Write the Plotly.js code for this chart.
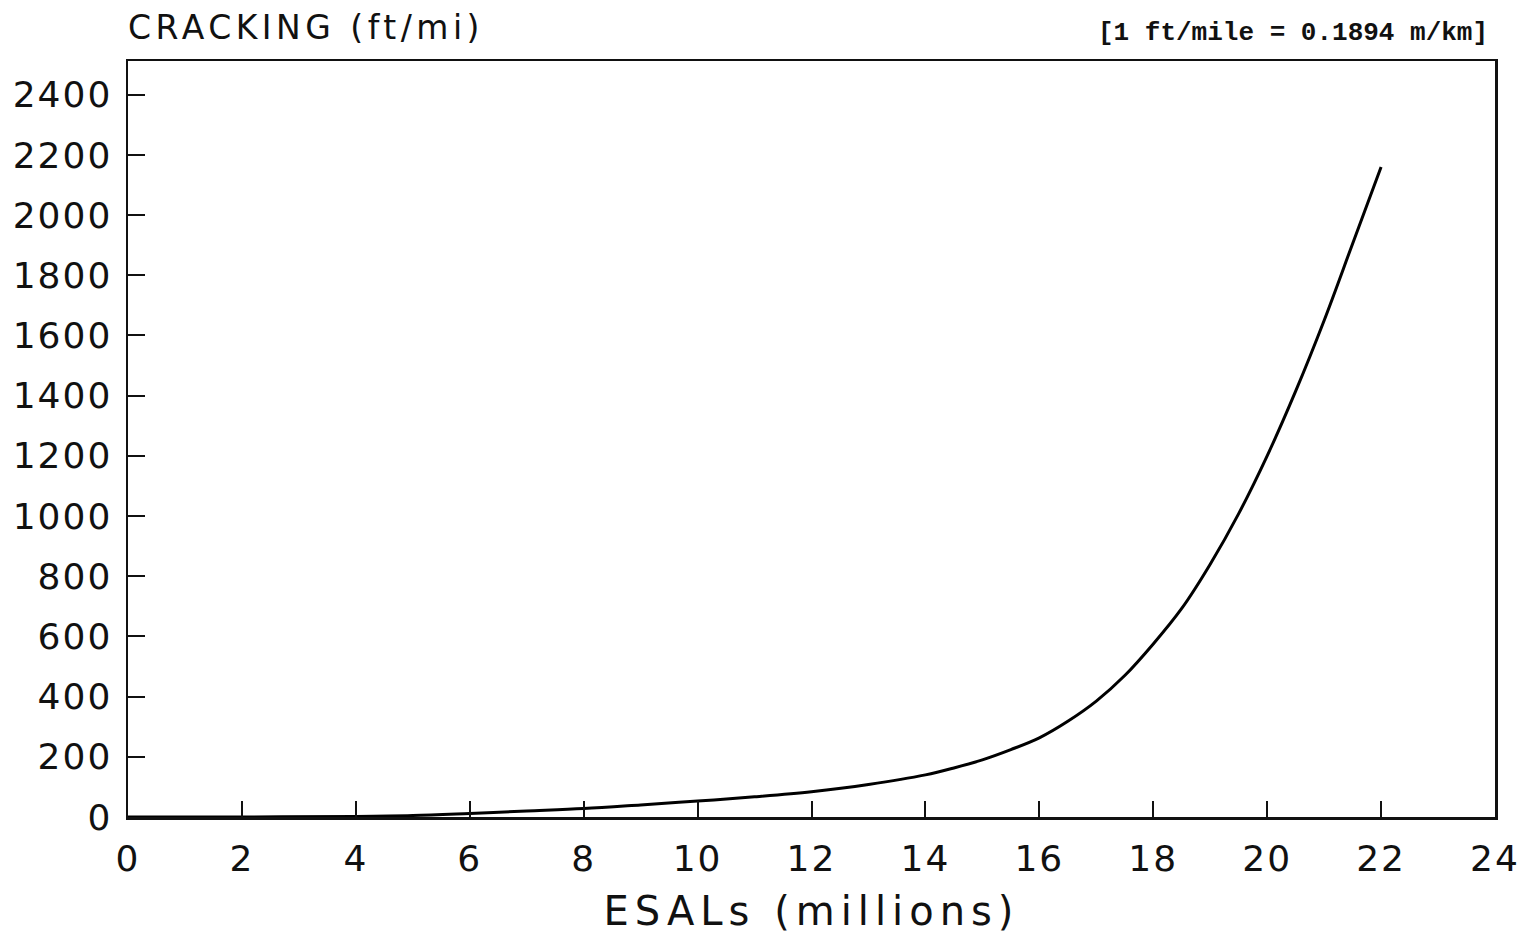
<!DOCTYPE html>
<html>
<head>
<meta charset="utf-8">
<script src="https://cdn.plot.ly/plotly-3.0.1.min.js"></script>
<style>
  html, body { margin: 0; padding: 0; background: #fff; }
  #chart { width: 1530px; height: 946px; }
  .xtick text, .ytick text { letter-spacing: 2px; }
  .xtitle { letter-spacing: 6px; }
  .annotation[data-index="0"] text { letter-spacing: 4.5px; }
</style>
</head>
<body>
<div id="chart"></div>
<script>
// ESALs (millions)
const esals = [0, 2, 4, 5, 6, 7, 8, 9, 10, 11, 12, 13, 14, 14.5, 15, 15.5, 16, 16.5, 17, 17.5, 18, 18.5, 19, 19.5, 20, 20.5, 21, 21.5, 22];
// Cracking (ft/mi)
const cracking = [0, 0, 2, 5, 12, 20, 28, 40, 53, 67, 84, 108, 140, 163, 190, 224, 263, 318, 385, 470, 575, 693, 840, 1008, 1200, 1415, 1650, 1905, 2160];

const xTickVals = [0, 2, 4, 6, 8, 10, 12, 14, 16, 18, 20, 22, 24];
const yTickVals = [0, 200, 400, 600, 800, 1000, 1200, 1400, 1600, 1800, 2000, 2200, 2400];

const yAxisLabel = 'CRACKING (ft/mi)';
const xAxisLabel = 'ESALs (millions)';
const conversionNote = '[1 ft/mile = 0.1894 m/km]';

const sans = 'DejaVu Sans, Liberation Sans, sans-serif';

const trace = {
  x: esals,
  y: cracking,
  type: 'scatter',
  mode: 'lines',
  line: { color: '#000', width: 3, shape: 'spline', smoothing: 1 },
  hoverinfo: 'x+y'
};

const layout = {
  width: 1530,
  height: 946,
  margin: { l: 128, r: 35, t: 61, b: 129 },
  paper_bgcolor: '#fff',
  plot_bgcolor: '#fff',
  showlegend: false,
  font: { family: sans, color: '#111' },
  xaxis: {
    range: [0, 24],
    tickvals: xTickVals,
    ticktext: xTickVals.map(String),
    ticks: 'inside',
    ticklen: 16,
    tickwidth: 2,
    tickcolor: '#111',
    showline: true,
    linewidth: 2.5,
    linecolor: '#111',
    mirror: true,
    showgrid: false,
    zeroline: false,
    tickfont: { family: sans, size: 36, color: '#111' },
    ticklabelstandoff: 8,
    title: { text: xAxisLabel, font: { family: sans, size: 40, color: '#111' }, standoff: 20 }
  },
  yaxis: {
    range: [0, 2512],
    tickvals: yTickVals,
    ticktext: yTickVals.map(String),
    ticks: 'inside',
    ticklen: 17,
    tickwidth: 2,
    tickcolor: '#111',
    showline: true,
    linewidth: 2.5,
    linecolor: '#111',
    mirror: true,
    showgrid: false,
    zeroline: false,
    tickfont: { family: sans, size: 36, color: '#111' },
    ticklabelstandoff: 6
  },
  annotations: [
    {
      text: yAxisLabel,
      xref: 'paper', yref: 'paper',
      x: 0, y: 1.0437,
      xanchor: 'left', yanchor: 'middle',
      xshift: 34,
      showarrow: false,
      font: { family: sans, size: 33, color: '#111' }
    },
    {
      text: '<b>' + conversionNote + '</b>',
      xref: 'paper', yref: 'paper',
      x: 0.9963, y: 1.037,
      xanchor: 'right', yanchor: 'middle',
      showarrow: false,
      font: { family: 'Liberation Mono, Courier New, monospace', size: 26, color: '#111' }
    }
  ]
};

Plotly.newPlot('chart', [trace], layout, { displayModeBar: false, staticPlot: true });
</script>
</body>
</html>
